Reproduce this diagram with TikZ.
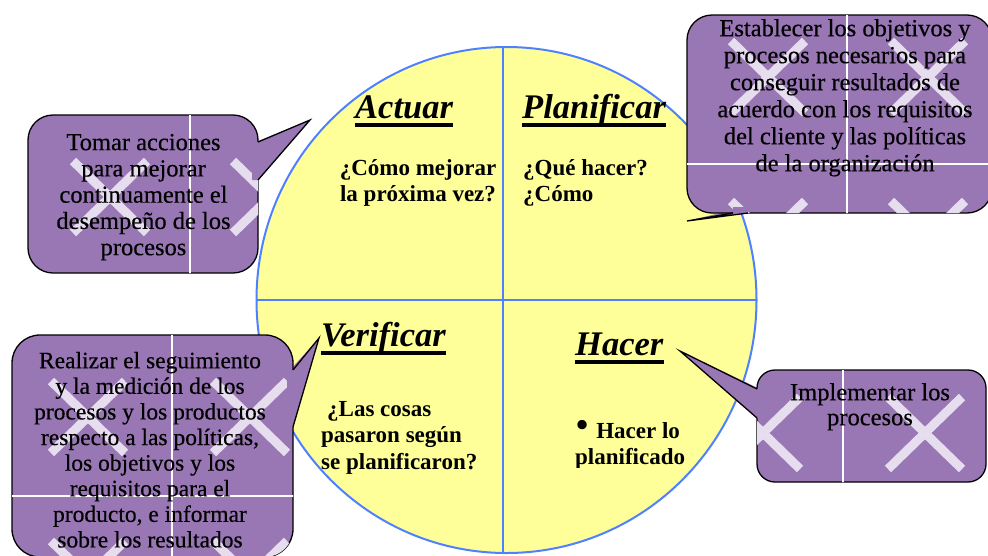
\documentclass[tikz,border=0pt]{standalone}
\usepackage{fontspec}
\setmainfont{Liberation Serif}
\newfontfamily\calloutfont[FakeBold=0.4]{Liberation Serif}
\usetikzlibrary{calc}
\definecolor{cpurple}{HTML}{9977B4}
\definecolor{cxmark}{HTML}{E6DDEF}
\definecolor{cyellow}{HTML}{FFFF99}
\definecolor{cblue}{HTML}{4F81FF}
\newcommand\xmk[2]{\draw[xmark,shift={(#1,#2)}] (-37,-36) -- (37,36) (-37,36) -- (37,-36);}
\begin{document}
\begin{tikzpicture}[x=1pt,y=-1pt,
  callbox/.style={fill=cpurple, draw=black, line width=1.3pt},
  calltail/.style={draw=black, line width=1.3pt, line join=miter},
  xmark/.style={draw=cxmark, line width=9pt},
  wline/.style={draw=white, line width=1.6pt},
  ctext/.style={align=center, inner sep=0pt, anchor=north},
  qtext/.style={font={\bfseries\fontsize{23}{26.5}\selectfont}, inner sep=0pt},
  ttl/.style={font={\bfseries\itshape\fontsize{34.5}{40}\selectfont}, inner sep=0pt, anchor=base west},
  uline/.style={draw=black, line width=3.6pt}]
\useasboundingbox (0,0) rectangle (988,555);
\fill[white] (0,0) rectangle (988,555);

% ---- circle ----
\filldraw[fill=cyellow, draw=cblue, line width=2pt] (506.5,300) ellipse [x radius=250pt, y radius=253pt];
\coordinate (vt) at (503,47);
\coordinate (vb) at (503,553);
\coordinate (hl) at (256,300);
\coordinate (hr) at (757,300);
\draw[cblue, line width=2pt] (vt) -- (vb);
\draw[cblue, line width=2pt] (hl) -- (hr);

% ---- titles ----
\node[ttl] (act) at (355,118) {Actuar};
\node[ttl] (pla) at (522,118) {Planificar};
\node[ttl] (ver) at (321,346) {Verificar};
\node[ttl] (hac) at (575,355) {Hacer};
\foreach \n in {act,pla,ver,hac}{
  \draw[uline] ($(\n.base west)+(0,7)$) -- ($(\n.base east)+(0,7)$);
}

% ---- questions ----
\node[qtext, align=center, anchor=north] (q1) at (418,156.5) {\strut ¿Cómo mejorar\\la próxima vez?};
\node[qtext, align=left, anchor=north west] (q2) at (523,156.5) {\strut ¿Qué hacer?\\¿Cómo};
\node[qtext, align=left, anchor=north west] (q3) at (321,397.5) {\strut\hspace{6pt}¿Las cosas\\pasaron según\\se planificaron?};
\begin{scope}
  \clip (560,400) rectangle (700,467);
  \node[qtext, align=left, anchor=north west] (q4) at (575,419.5) {\strut\hspace{1pt}\raisebox{2pt}{\scalebox{1.5}{•}}\hspace{8pt}Hacer lo\\planificado};
\end{scope}

% ---- callout 1 (Actuar) ----
\fill[cpurple] (256,142) -- (310,120) -- (256,180) -- cycle;
\filldraw[callbox, rounded corners=25pt] (28,115) rectangle (258,273);
\begin{scope}
  \clip[rounded corners=25pt] (28,115) rectangle (258,273);
  \xmk{110}{197} \xmk{270}{197}
  \draw[wline] (190,110) -- (190,280);
\end{scope}
\fill[cpurple] (252,142) -- (258,142) -- (310,120) -- (258,180) -- (252,180) -- cycle;
\draw[calltail] (258,142) -- (310,120) -- (258,180);

% ---- callout 2 (Planificar) ----
\fill[cpurple] (733,210) -- (687,221) -- (748,210) -- cycle;
\filldraw[callbox, rounded corners=25pt] (687,15) rectangle (992,213);
\begin{scope}
  \clip[rounded corners=25pt] (687,15) rectangle (992,213);
  \xmk{768}{77} \xmk{928}{77} \xmk{768}{237} \xmk{928}{237}
  \draw[wline] (847,10) -- (847,220);
  \draw[wline] (680,164) -- (995,164);
\end{scope}
\fill[cpurple] (733,207) -- (733,213) -- (687,221) -- (748,213) -- (748,207) -- cycle;
\draw[calltail] (733,213) -- (687,221) -- (748,213);

% ---- callout 3 (Verificar) ----
\fill[cpurple] (290,370) -- (319,338) -- (290,427) -- cycle;
\filldraw[callbox, rounded corners=28pt] (12,335) rectangle (293,557);
\begin{scope}
  \clip[rounded corners=28pt] (12,335) rectangle (293,557);
  \xmk{88}{417} \xmk{250}{417} \xmk{88}{577} \xmk{250}{577}
  \draw[wline] (172,330) -- (172,560);
  \draw[wline] (5,496) -- (300,496);
\end{scope}
\fill[cpurple] (287,370) -- (293,370) -- (319,338) -- (293,427) -- (287,427) -- cycle;
\draw[calltail] (293,370) -- (319,338) -- (293,427);

% ---- callout 4 (Hacer) ----
\fill[cpurple] (760,389) -- (680,351) -- (760,418) -- cycle;
\filldraw[callbox, rounded corners=18pt] (757,370) rectangle (986,482);
\begin{scope}
  \clip[rounded corners=18pt] (757,370) rectangle (986,482);
  \xmk{763}{433} \xmk{925}{433}
  \draw[wline] (843,365) -- (843,490);
\end{scope}
\fill[cpurple] (763,389) -- (757,389) -- (680,351) -- (757,418) -- (763,418) -- cycle;
\draw[calltail] (757,389) -- (680,351) -- (757,418);

% ---- callout texts ----
\node[ctext, font={\calloutfont\fontsize{24.5}{26.25}\selectfont}] (t1) at (143.5,131.6)
  {\strut Tomar acciones\\para mejorar\\continuamente el\\desempeño de los\\procesos};
\node[ctext, font={\calloutfont\fontsize{24.5}{27}\selectfont}] (t2) at (845,17.1)
  {\strut Establecer los objetivos y\\procesos necesarios para\\conseguir resultados de\\acuerdo con los requisitos\\del cliente y las políticas\\de la organización};
\node[ctext, font={\calloutfont\fontsize{23.5}{25.6}\selectfont}] (t3) at (150,350.1)
  {\strut Realizar el seguimiento\\y la medición de los\\procesos y los productos\\respecto a las políticas,\\los objetivos y los\\requisitos para el\\producto, e informar\\sobre los resultados};
\node[ctext, font={\calloutfont\fontsize{24.5}{25}\selectfont}] (t4) at (870,382.5)
  {\strut Implementar los\\procesos};
\end{tikzpicture}
\end{document}
